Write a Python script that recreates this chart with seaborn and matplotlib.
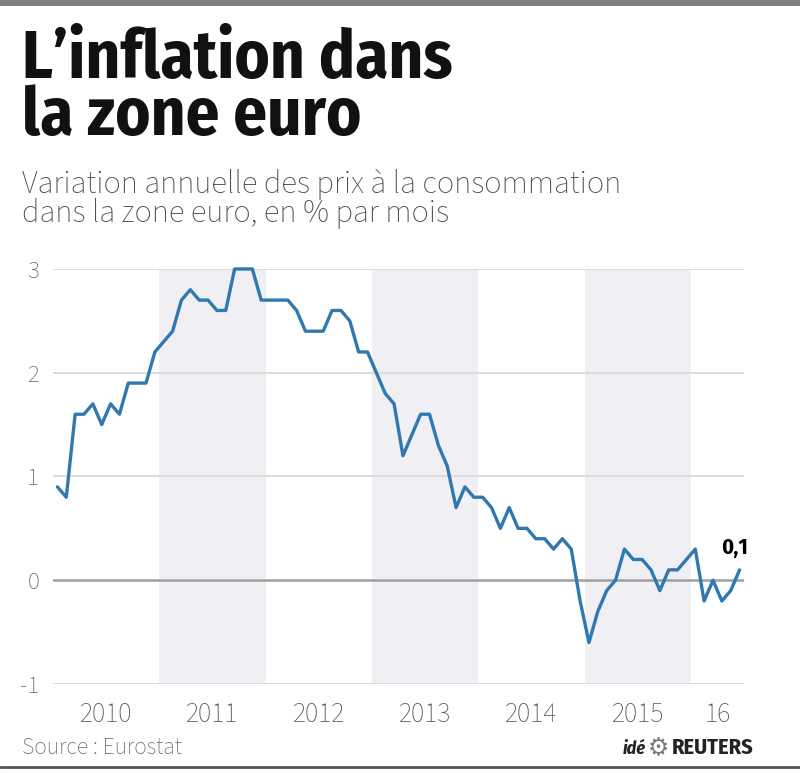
import numpy as np
import pandas as pd
import matplotlib.pyplot as plt
import seaborn as sns

# Euro zone HICP, annual change in % (monthly, Jan 2010 - Jun 2016)
infl_2010 = [0.9, 0.8, 1.6, 1.6, 1.7, 1.5, 1.7, 1.6, 1.9, 1.9, 1.9, 2.2]
infl_2011 = [2.3, 2.4, 2.7, 2.8, 2.7, 2.7, 2.6, 2.6, 3.0, 3.0, 3.0, 2.7]
infl_2012 = [2.7, 2.7, 2.7, 2.6, 2.4, 2.4, 2.4, 2.6, 2.6, 2.5, 2.2, 2.2]
infl_2013 = [2.0, 1.8, 1.7, 1.2, 1.4, 1.6, 1.6, 1.3, 1.1, 0.7, 0.9, 0.8]
infl_2014 = [0.8, 0.7, 0.5, 0.7, 0.5, 0.5, 0.4, 0.4, 0.3, 0.4, 0.3, -0.2]
infl_2015 = [-0.6, -0.3, -0.1, 0.0, 0.3, 0.2, 0.2, 0.1, -0.1, 0.1, 0.1, 0.2]
infl_2016 = [0.3, -0.2, 0.0, -0.2, -0.1, 0.1]

years = [2010, 2011, 2012, 2013, 2014, 2015, 2016]
shaded_years = [2011, 2013, 2015]
x_labels = ["2010", "2011", "2012", "2013", "2014", "2015", "16"]
y_ticks = [-1, 0, 1, 2, 3]

series = [infl_2010, infl_2011, infl_2012, infl_2013, infl_2014, infl_2015, infl_2016]
rows = []
for yr, vals in zip(years, series):
    for m, v in enumerate(vals):
        rows.append({"t": yr + (m + 0.5) / 12, "val": v})
df = pd.DataFrame(rows)

sns.set_style("white")
plt.rcParams["font.family"] = ["Source Sans 3", "DejaVu Sans"]
bold_font = ["Fira Sans Condensed", "DejaVu Sans"]

fig = plt.figure(figsize=(8, 7.74), dpi=100)
ax = fig.add_axes([0.06625, 0.1163, 0.86375, 0.5362])

for yr in shaded_years:
    ax.axvspan(yr, yr + 1, color="#f0f0f4", lw=0, zorder=0)
for yv in y_ticks:
    if yv == 0:
        ax.axhline(yv, color="#a0a0a0", lw=1.8, zorder=1)
    else:
        ax.axhline(yv, color="#dadada", lw=1.3, zorder=1)

sns.lineplot(data=df, x="t", y="val", ax=ax, color="#2f78b0", lw=2.4,
             zorder=3, clip_on=False)

ax.set_xlim(2010, 2016.5)
ax.set_ylim(-1, 3)
ax.set_xlabel("")
ax.set_ylabel("")
for s in ax.spines.values():
    s.set_visible(False)

ax.set_yticks(y_ticks)
ax.set_yticklabels([str(v) for v in y_ticks], color="#666666", fontsize=18)
ax.set_xticks([y + 0.5 for y in years[:-1]] + [2016.25])
ax.set_xticklabels(x_labels, color="#555555", fontsize=20)
ax.tick_params(axis="both", length=0)
ax.tick_params(axis="y", pad=10)
ax.tick_params(axis="x", pad=12)

last = df.iloc[-1]
ax.annotate("0,1", (last["t"], last["val"]), xytext=(-4, 8),
            textcoords="offset points", ha="center", va="bottom",
            fontsize=16, fontweight="bold", color="black", family=bold_font)

fig.text(0.0275, 0.899, "L\u2019inflation dans", fontsize=48,
         fontweight="bold", color="#111111", va="baseline", family=bold_font)
fig.text(0.0275, 0.826, "la zone euro", fontsize=48,
         fontweight="bold", color="#111111", va="baseline", family=bold_font)
fig.text(0.0275, 0.751, "Variation annuelle des prix \u00e0 la consommation",
         fontsize=23.4, color="#4d4d4d", va="baseline")
fig.text(0.0275, 0.713, "dans la zone euro, en % par mois",
         fontsize=23.4, color="#4d4d4d", va="baseline")
fig.text(0.0275, 0.026, "Source : Eurostat", fontsize=17,
         color="#666666", va="baseline")
fig.text(0.778, 0.026, "id\u00e9", fontsize=13, fontweight="bold", style="italic",
         color="#222222", va="baseline", family=bold_font)
fig.text(0.81, 0.024, "\u2699", fontsize=17, color="#777777", va="baseline",
         family=["DejaVu Sans"])
fig.text(0.84, 0.026, "REUTERS", fontsize=16, fontweight="bold", color="#222222",
         va="baseline", family=bold_font)

fig.add_artist(plt.Line2D([0, 1], [0.997, 0.997], color="#808080", lw=5,
                          transform=fig.transFigure))
fig.add_artist(plt.Line2D([0, 1], [0.009, 0.009], color="#555555", lw=2,
                          transform=fig.transFigure))

fig.savefig("out.png", dpi=100)
